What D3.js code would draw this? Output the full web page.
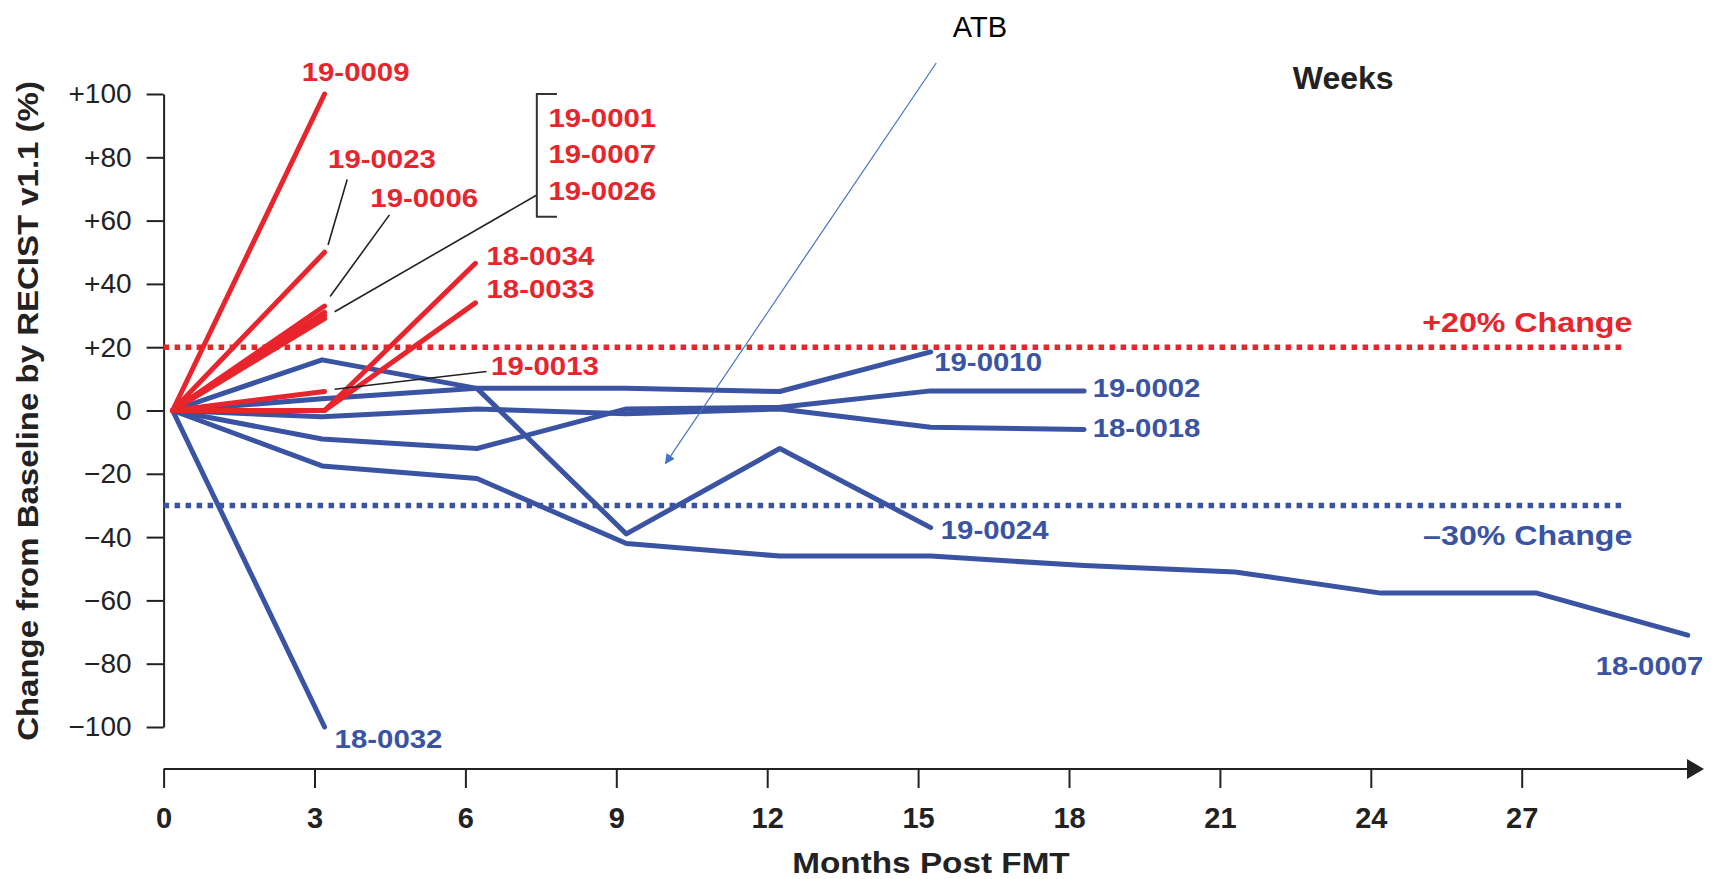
<!DOCTYPE html>
<html>
<head>
<meta charset="utf-8">
<script src="https://cdn.jsdelivr.net/npm/d3@7"></script>
<style>
  html, body { margin: 0; padding: 0; background: #fff; }
  svg { display: block; font-family: "Liberation Sans", Arial, sans-serif; }
</style>
</head>
<body>
<svg id="chart" width="1720" height="879"></svg>
<script>
// data: [months post FMT, % change]
const progression = [
  { id: "19-0009", pts: [[0.18, 0], [3.2, 100]] },
  { id: "19-0023", pts: [[0.18, 0], [3.2, 50]] },
  { id: "19-0006", pts: [[0.18, 0], [3.2, 33]] },
  { id: "19-0001", pts: [[0.18, 0], [3.2, 31]] },
  { id: "19-0007", pts: [[0.18, 0], [3.2, 30]] },
  { id: "19-0026", pts: [[0.18, 0], [3.2, 29]] },
  { id: "18-0034", pts: [[0.18, 0], [3.2, 0], [6.2, 46.5]] },
  { id: "18-0033", pts: [[0.18, 0], [3.2, 0], [6.2, 34]] },
  { id: "19-0013", pts: [[0.18, 0], [3.2, 6]] }
];

const response = [
  { id: "19-0010", pts: [[0.18, 0], [3.15, 3.7], [6.23, 7], [9.2, 7], [12.25, 6], [15.25, 18.5]] },
  { id: "19-0002", pts: [[0.18, 0], [3.15, -9], [6.23, -12], [9.2, 0.5], [12.25, 1], [15.25, 6.2], [18.3, 6.2]] },
  { id: "18-0018", pts: [[0.18, 0], [3.15, -2], [6.23, 0.5], [9.2, -1], [12.25, 0.5], [15.25, -5.3], [18.3, -6]] },
  { id: "19-0024", pts: [[0.18, 0], [3.15, 16], [6.23, 7], [9.2, -39], [12.25, -12], [15.25, -37]] },
  { id: "18-0007", pts: [[0.18, 0], [3.15, -17.5], [6.23, -21.5], [9.2, -42], [12.25, -46], [15.25, -46],
                         [18.3, -49], [21.3, -51], [24.2, -57.7], [27.3, -57.7], [30.3, -71]] },
  { id: "18-0032", pts: [[0.18, 0], [3.2, -100]] }
];

const xTicks = [0, 3, 6, 9, 12, 15, 18, 21, 24, 27];
const yTicks = [100, 80, 60, 40, 20, 0, -20, -40, -60, -80, -100];
const thresholds = [20, -30];
const thresholdText = ["+20% Change", "\u201330% Change"];

// where each id label sits, in data units (months, %)
const labelAt = {
  "19-0009": [2.745, 104.1], "19-0023": [3.27, 76.5], "19-0006": [4.11, 64.4],
  "19-0001": [7.65, 89.7], "19-0007": [7.65, 78.1], "19-0026": [7.65, 66.5],
  "18-0034": [6.42, 46], "18-0033": [6.42, 35.5], "19-0013": [6.51, 11.2],
  "19-0010": [15.32, 12.6], "19-0002": [18.47, 4.4], "18-0018": [18.47, -8.5],
  "19-0024": [15.45, -40.7], "18-0007": [28.47, -83.6], "18-0032": [3.4, -106.5]
};

// thin black leader lines
const leaders = [
  [[3.65, 73], [3.27, 52.3]],
  [[4.49, 61.8], [3.31, 36]],
  [[7.42, 68.1], [3.4, 31.2]],
  [[6.42, 12.3], [3.4, 6.7]]
];

const red = "#e8242c", blue = "#3a53a2", ink = "#222";

var svg = d3.select("#chart");

var x = d3.scaleLinear().domain([0, 30]).range([163.6, 1672.6]);
var y = d3.scaleLinear().domain([-100, 100]).range([727, 94]);

//axes
var yAxis = d3.axisLeft(y)
  .tickValues(yTicks)
  .tickSize(17)
  .tickSizeOuter(0)
  .tickPadding(15)
  .tickFormat(d => d > 0 ? "+" + d : d < 0 ? "\u2212" + Math.abs(d) : "0");

var gy = svg.append("g")
  .attr("transform", "translate(" + x(0) + ",0)")
  .call(yAxis);
gy.selectAll("path, line").attr("stroke", ink).attr("stroke-width", 2);
gy.selectAll("text").attr("font-size", 28).attr("fill", ink).attr("font-family", "Liberation Sans, Arial");

var xAxis = d3.axisBottom(x)
  .tickValues(xTicks)
  .tickSize(19)
  .tickSizeOuter(0)
  .tickPadding(19);

var gx = svg.append("g")
  .attr("transform", "translate(0," + 769 + ")")
  .call(xAxis);
gx.select(".domain").remove();
gx.selectAll("line").attr("stroke", ink).attr("stroke-width", 2);
gx.selectAll("text").attr("font-size", 29).attr("font-weight", "bold").attr("fill", ink)
  .attr("font-family", "Liberation Sans, Arial");

// axis line with arrow head
svg.append("line")
  .attr("x1", x(0)).attr("x2", 1690)
  .attr("y1", 769).attr("y2", 769)
  .attr("stroke", ink).attr("stroke-width", 2);
svg.append("path")
  .attr("d", "M1687,759 L1704,769 L1687,779 Z")
  .attr("fill", ink);

// axis titles
svg.append("text")
  .attr("transform", "translate(38,411) rotate(-90) scale(1.1,1)")
  .attr("text-anchor", "middle")
  .attr("font-size", 30).attr("font-weight", "bold").attr("fill", ink)
  .text("Change from Baseline by RECIST v1.1 (%)");

svg.append("text")
  .attr("transform", "translate(931,873) scale(1.11,1)")
  .attr("text-anchor", "middle")
  .attr("font-size", 30).attr("font-weight", "bold").attr("fill", ink)
  .text("Months Post FMT");

svg.append("text")
  .attr("x", x(22.45)).attr("y", y(101.5))
  .attr("font-size", 32).attr("font-weight", "bold").attr("fill", ink)
  .text("Weeks");

// threshold lines
svg.selectAll(".thresh")
  .data(thresholds)
  .enter().append("line")
  .attr("class", "thresh")
  .attr("x1", x(0)).attr("x2", x(28.99))
  .attr("y1", d => y(d)).attr("y2", d => y(d))
  .attr("stroke", d => d > 0 ? red : blue)
  .attr("stroke-width", 5.5)
  .attr("stroke-dasharray", "5.5,5.5");

svg.selectAll(".thresh-label")
  .data(thresholds)
  .enter().append("text")
  .attr("class", "thresh-label")
  .attr("transform", (d, i) => "translate(" + x(29.2) + "," + y(d > 0 ? 24.9 : -42.5) + ") scale(1.15,1)")
  .attr("text-anchor", "end")
  .attr("font-size", 28).attr("font-weight", "bold")
  .attr("fill", d => d > 0 ? red : blue)
  .text((d, i) => thresholdText[i]);

// patient lines
var line = d3.line().x(d => x(d[0])).y(d => y(d[1]));

function drawSeries(list, colour) {
  svg.append("g")
    .selectAll("path")
    .data(list)
    .enter().append("path")
    .attr("d", d => line(d.pts))
    .attr("fill", "none")
    .attr("stroke", colour)
    .attr("stroke-width", 5)
    .attr("stroke-linejoin", "round")
    .attr("stroke-linecap", "round");

  svg.append("g")
    .selectAll("text")
    .data(list)
    .enter().append("text")
    .attr("transform", d => "translate(" + x(labelAt[d.id][0]) + "," + y(labelAt[d.id][1]) + ") scale(1.13,1)")
    .attr("font-size", 26).attr("font-weight", "bold")
    .attr("fill", colour)
    .text(d => d.id);
}

drawSeries(response, blue);
drawSeries(progression, red);

// leader lines + bracket
svg.append("g")
  .selectAll("line")
  .data(leaders)
  .enter().append("line")
  .attr("x1", d => x(d[0][0])).attr("y1", d => y(d[0][1]))
  .attr("x2", d => x(d[1][0])).attr("y2", d => y(d[1][1]))
  .attr("stroke", ink).attr("stroke-width", 1.6);

svg.append("path")
  .attr("d", "M" + x(7.82) + "," + y(100) + "H" + x(7.42) + "V" + y(61.2) + "H" + x(7.82))
  .attr("fill", "none").attr("stroke", "#333").attr("stroke-width", 2);

// ATB annotation
svg.append("defs").append("marker")
  .attr("id", "head")
  .attr("viewBox", "0 0 10 10")
  .attr("refX", 9).attr("refY", 5)
  .attr("markerWidth", 10).attr("markerHeight", 10)
  .attr("markerUnits", "userSpaceOnUse")
  .attr("orient", "auto")
  .append("path").attr("d", "M0,0 L10,5 L0,10 Z").attr("fill", "#4472c4");

svg.append("line")
  .attr("x1", x(15.36)).attr("y1", y(109.8))
  .attr("x2", x(9.98)).attr("y2", y(-16.7))
  .attr("stroke", "#4472c4").attr("stroke-width", 1.2)
  .attr("marker-end", "url(#head)");

svg.append("text")
  .attr("x", x(15.69)).attr("y", y(118.1))
  .attr("font-size", 29).attr("fill", "#000")
  .text("ATB");
</script>
</body>
</html>
